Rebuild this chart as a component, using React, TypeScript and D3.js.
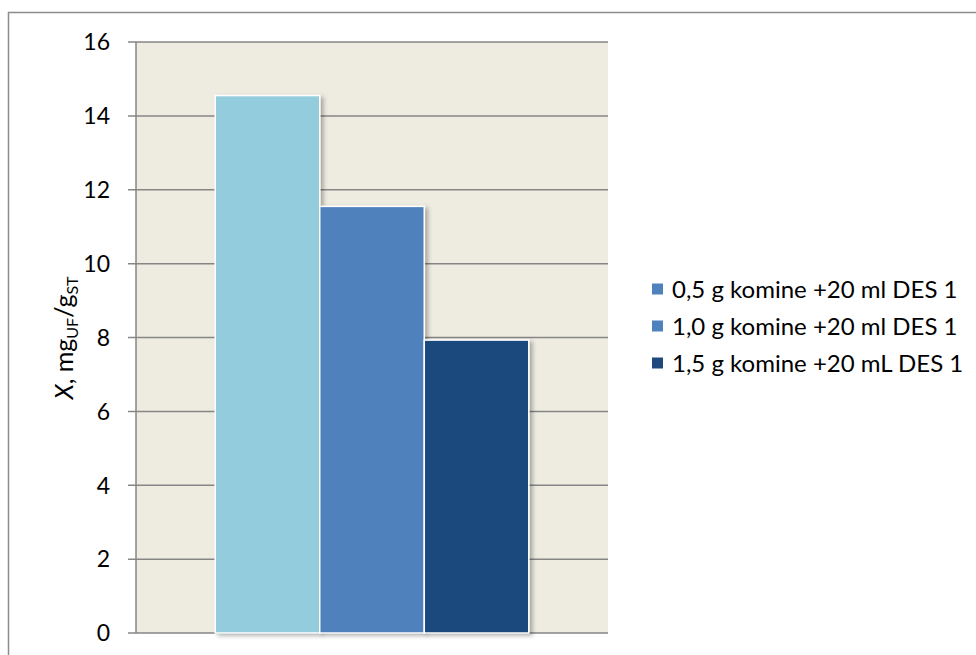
import React from "react";
import * as d3 from "d3";

const categories = ["1"];
const seriesNames = [
  "0,5 g komine +20 ml DES 1",
  "1,0 g komine +20 ml DES 1",
  "1,5 g komine +20 mL DES 1",
];
const seriesValues = [14.55, 11.55, 7.93];
const barColors = ["#93CDDD", "#4F81BD", "#1F497D"];
const legendColors = ["#4F81BD", "#4F81BD", "#1F497D"];
const yTicks = [0, 2, 4, 6, 8, 10, 12, 14, 16];

const W = 976;
const H = 655;
const plot = { left: 136, right: 608, top: 42, bottom: 633 };
const FONT = "Lato, 'Open Sans', sans-serif";

export default function App() {
  const y = d3.scaleLinear().domain([0, 16]).range([plot.bottom, plot.top]);
  const xCat = d3
    .scaleBand()
    .domain(categories)
    .range([plot.left, plot.right])
    .paddingInner(0)
    .paddingOuter(0.2526);
  const xSer = d3
    .scaleBand()
    .domain(seriesNames)
    .range([0, xCat.bandwidth()])
    .padding(0);

  return (
    <svg
      width={W}
      height={H}
      style={{ position: "absolute", left: 0, top: 0 }}
      fontFamily={FONT}
    >
      <defs>
        <filter id="sh" x="-10%" y="-10%" width="130%" height="130%">
          <feDropShadow dx="3" dy="2" stdDeviation="2" floodColor="#000" floodOpacity="0.3" />
        </filter>
      </defs>
      <rect x={0} y={0} width={W} height={H} fill="#fff" />
      <rect x={8.5} y={12.5} width={1200} height={1200} fill="none" stroke="#8c8c8c" strokeWidth={1.5} />
      <rect
        x={plot.left}
        y={plot.top}
        width={plot.right - plot.left}
        height={plot.bottom - plot.top}
        fill="#EEECE1"
      />
      {yTicks.map((t) => (
        <g key={t}>
          <line x1={plot.left - 8} x2={plot.right} y1={y(t)} y2={y(t)} stroke="#868686" strokeWidth={1.5} />
          <text x={110} y={y(t)} dy="0.36em" textAnchor="end" fontSize={23} fill="#000">
            {t}
          </text>
        </g>
      ))}
      <line x1={plot.left} x2={plot.left} y1={plot.top} y2={plot.bottom} stroke="#868686" strokeWidth={1.5} />
      {categories.map((c) =>
        seriesNames.map((s, i) => {
          const x0 = (xCat(c) ?? 0) + (xSer(s) ?? 0);
          return (
            <rect
              key={s}
              x={x0}
              y={y(seriesValues[i])}
              width={xSer.bandwidth()}
              height={y(0) - y(seriesValues[i])}
              fill={barColors[i]}
              stroke="#fff"
              strokeWidth={1.5}
              filter="url(#sh)"
            />
          );
        })
      )}
      <text
        transform={`translate(73, 338) rotate(-90)`}
        textAnchor="middle"
        fontSize={25}
        fill="#000"
      >
        <tspan fontStyle="italic">X</tspan>
        <tspan>, mg</tspan>
        <tspan fontSize={16} dy={5}>UF</tspan>
        <tspan dy={-5}>/g</tspan>
        <tspan fontSize={16} dy={5}>ST</tspan>
      </text>
      {seriesNames.map((s, i) => {
        const cy = 289 + i * 37;
        return (
          <g key={s}>
            <rect x={652} y={cy - 5.5} width={11} height={11} fill={legendColors[i]} />
            <text x={672} y={cy} dy="0.36em" fontSize={24} fill="#000">
              {s}
            </text>
          </g>
        );
      })}
    </svg>
  );
}
